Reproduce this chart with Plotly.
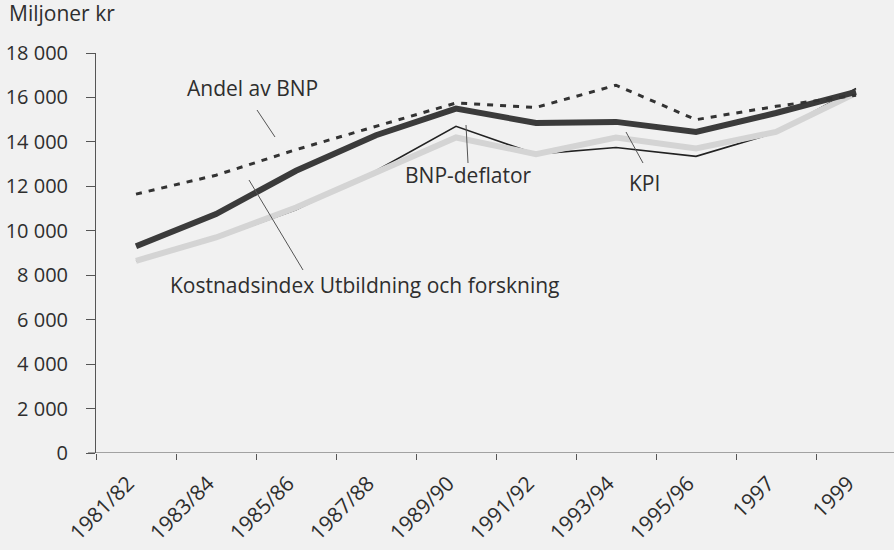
import plotly.graph_objects as go

categories = ["1981/82", "1983/84", "1985/86", "1987/88", "1989/90",
              "1991/92", "1993/94", "1995/96", "1997", "1999"]
andel_bnp = [11650, 12500, 13650, 14700, 15750, 15550, 16550, 15000, 15600, 16100]
kostnadsindex = [9300, 10750, 12700, 14300, 15500, 14850, 14900, 14450, 15300, 16250]
bnp_deflator = [8650, 9650, 10950, 12700, 14700, 13450, 13750, 13350, 14420, 16400]
kpi = [8650, 9700, 11050, 12600, 14200, 13450, 14200, 13700, 14450, 16200]
y_ticks = [0, 2000, 4000, 6000, 8000, 10000, 12000, 14000, 16000, 18000]
y_ticklabels = ["0", "2 000", "4 000", "6 000", "8 000", "10 000",
                "12 000", "14 000", "16 000", "18 000"]

FONT = "Open Sans"
TXT = "#2e2e2e"
BG = "#f1f1f1"

x = list(range(len(categories)))

fig = go.Figure()
fig.add_trace(go.Scatter(x=x, y=bnp_deflator, mode="lines",
                         line=dict(color="#222222", width=1.6), name="BNP-deflator"))
fig.add_trace(go.Scatter(x=x, y=kpi, mode="lines",
                         line=dict(color="#d4d4d4", width=6), name="KPI"))
fig.add_trace(go.Scatter(x=x, y=kostnadsindex, mode="lines",
                         line=dict(color="#3b3b3b", width=6),
                         name="Kostnadsindex Utbildning och forskning"))
fig.add_trace(go.Scatter(x=x, y=andel_bnp, mode="lines",
                         line=dict(color="#333333", width=3, dash="6px,7px"),
                         name="Andel av BNP"))

annotations = [
    dict(text="Andel av BNP", x=1.45, y=16425),
    dict(text="BNP-deflator", x=4.15, y=12510),
    dict(text="KPI", x=6.35, y=12150),
    dict(text="Kostnadsindex Utbildning och forskning", x=2.86, y=7560),
]
for a in annotations:
    fig.add_annotation(text=a["text"], x=a["x"], y=a["y"], xref="x", yref="y",
                       showarrow=False, xanchor="center", yanchor="middle",
                       font=dict(family=FONT, size=21, color=TXT))

fig.add_annotation(text="Miljoner kr", xref="paper", yref="paper",
                   x=(7 - 96) / 798, y=(453 - 13) / 400, xanchor="left",
                   yanchor="middle", showarrow=False,
                   font=dict(family=FONT, size=21, color=TXT))

leaders = [
    (1.5125, 15435, 1.7375, 14220),
    (4.125, 14760, 4.15, 13050),
    (6.125, 14445, 6.3375, 13050),
    (1.4125, 12285, 2.0875, 8235),
]
for x0, y0, x1, y1 in leaders:
    fig.add_shape(type="line", x0=x0, y0=y0, x1=x1, y1=y1, xref="x", yref="y",
                  line=dict(color="#555555", width=1))

fig.update_layout(
    width=894, height=550,
    margin=dict(l=96, r=0, t=53, b=97),
    paper_bgcolor=BG, plot_bgcolor=BG,
    showlegend=False,
    font=dict(family=FONT, color=TXT, size=20),
)
fig.update_xaxes(
    range=[-0.5, 9.475], showgrid=False, zeroline=False, automargin=False,
    tickmode="array", tickvals=[i - 0.1 for i in x], ticktext=categories, tickangle=-45,
    ticks="", ticklen=0, ticklabelstandoff=13,
    showline=False,
    tickfont=dict(family=FONT, size=21, color=TXT),
    minor=dict(tickmode="array", tickvals=[i - 0.5 for i in range(len(categories))],
               ticks="outside", ticklen=6, tickcolor="#555555", showgrid=False),
)
fig.update_yaxes(
    range=[0, 18000], showgrid=False, zeroline=False, automargin=False,
    tickmode="array", tickvals=y_ticks, ticktext=y_ticklabels,
    ticks="outside", ticklen=9, tickcolor="#555555",
    showline=True, linecolor="#555555", linewidth=1,
    ticklabelstandoff=14,
    tickfont=dict(family=FONT, size=20, color=TXT),
)
# x axis line at y=0 extending slightly left of the y axis
fig.add_shape(type="line", xref="paper", yref="y", x0=-8 / 798, x1=1, y0=0, y1=0,
              line=dict(color="#555555", width=1.2))

fig.write_html(
    "out.html",
    config={"displayModeBar": False},
    post_script="document.body.style.margin='0px';document.body.style.background='#f1f1f1';",
)
